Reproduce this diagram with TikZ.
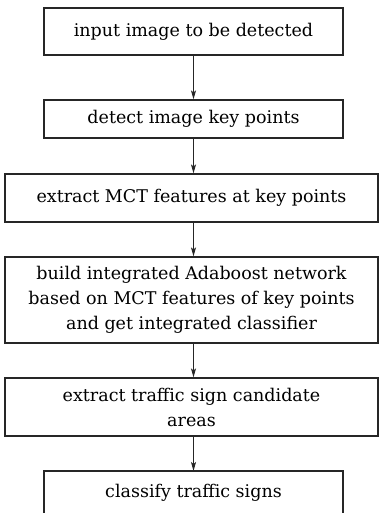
\documentclass[tikz,border=0pt]{standalone}
\usepackage{fontspec}
\setmainfont{DejaVu Serif}
\usetikzlibrary{arrows.meta}
\begin{document}
\begin{tikzpicture}[x=1pt,y=-1pt,
  stepbox/.style={draw=black!85,line width=1.2pt,inner sep=0pt,align=center,
    font=\fontsize{17.5}{25}\selectfont},
  arr/.style={draw=black!85,line width=1pt,-{Stealth[length=9pt,width=5pt,inset=2pt]}}]
\useasboundingbox (0,0) rectangle (379,513);
\node[stepbox,minimum width=299pt,minimum height=47pt] (b1) at (193.5,31.5) {input image to be detected};
\node[stepbox,minimum width=299pt,minimum height=38pt] (b2) at (193.5,119) {detect image key points};
\node[stepbox,minimum width=373pt,minimum height=48pt] (b3) at (191.5,198) {extract MCT features at key points};
\node[stepbox,minimum width=373pt,minimum height=86pt] (b4) at (191.5,300) {build integrated Adaboost network\\based on MCT features of key points\\and get integrated classifier};
\node[stepbox,minimum width=373pt,minimum height=58pt] (b5) at (191.5,407) {extract traffic sign candidate\\areas};
\coordinate (b6tl) at (44,471);
\coordinate (b6br) at (343,530);
\draw[draw=black!85,line width=1.2pt] (b6tl) rectangle (b6br);
\node[font=\fontsize{17.5}{25}\selectfont,anchor=base] (b6) at (193.5,497) {classify traffic signs};
\coordinate (b6top) at (193.5,471);
\draw[arr] (b1.south) -- (b2.north);
\draw[arr] (b2.south) -- (b2.south |- b3.north);
\draw[arr] (b2.south |- b3.south) -- (b2.south |- b4.north);
\draw[arr] (b2.south |- b4.south) -- (b2.south |- b5.north);
\draw[arr] (b2.south |- b5.south) -- (b6top);
\end{tikzpicture}
\end{document}
